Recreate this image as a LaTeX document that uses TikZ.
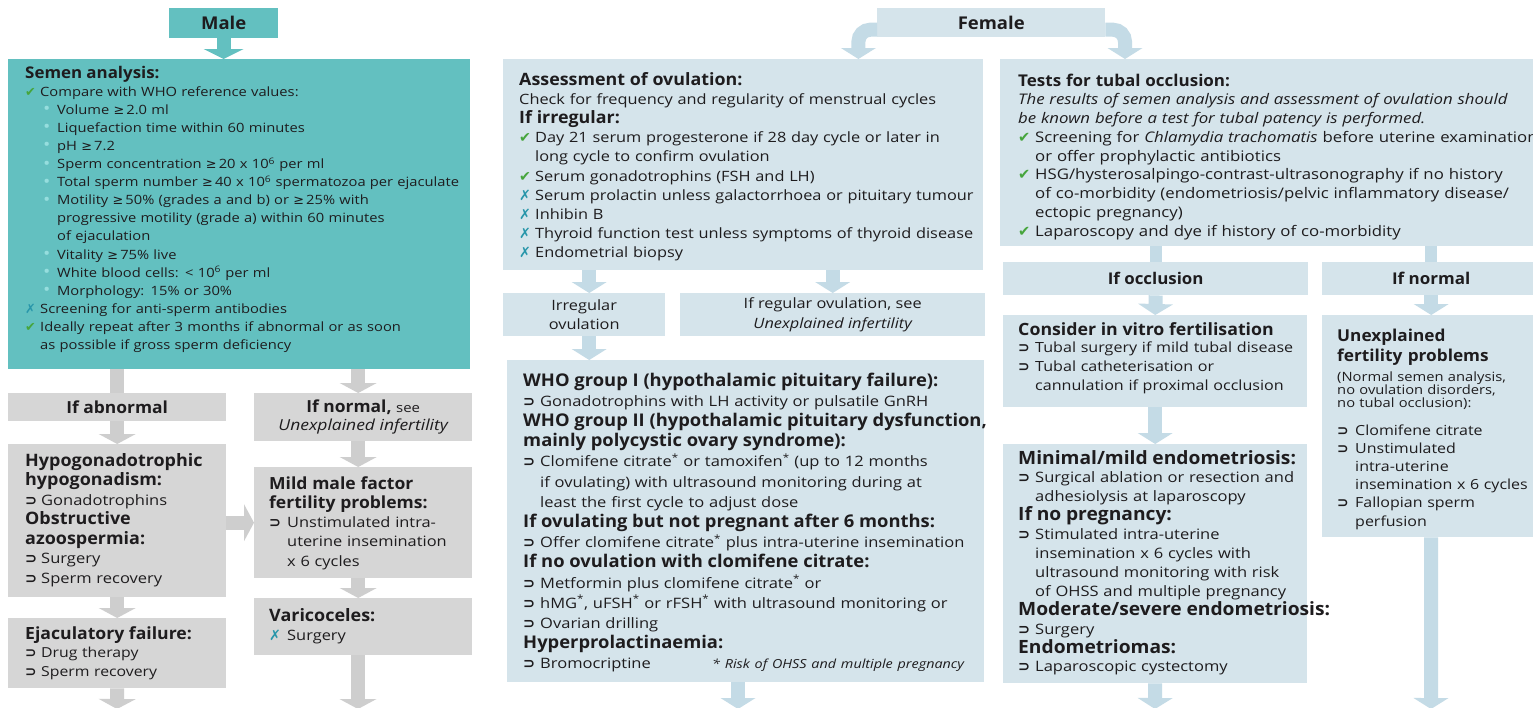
\documentclass[tikz,border=0pt]{standalone}
\usepackage{fontspec}
\setmainfont{Open Sans}[UprightFeatures={FakeStretch=1.15},ItalicFeatures={FakeStretch=1.15},BoldFeatures={FakeStretch=1.05}]
\newfontfamily\symf{DejaVu Sans}
\usetikzlibrary{arrows.meta}
\definecolor{tealbox}{RGB}{99,192,192}
\definecolor{greybox}{RGB}{214,214,214}
\definecolor{greyarr}{RGB}{206,206,206}
\definecolor{bluebox}{RGB}{213,228,235}
\definecolor{bluearr}{RGB}{196,219,230}
\definecolor{ink}{RGB}{30,28,30}
\definecolor{chkgreen}{RGB}{70,165,60}
\definecolor{crsblue}{RGB}{40,150,170}
\definecolor{bulteal}{RGB}{150,222,222}
\newcommand\chk{{\symf\color{chkgreen}✔}}
\newcommand\crs{{\symf\color{crsblue}✗}}
\newcommand\arw{{\symf\bfseries ⊃}}
\newcommand\gq{{\symf ≥}}
\newcommand\bulx{{\color{bulteal}\fontsize{17}{10}\selectfont\raisebox{-0.5pt}{•}}}
\newcommand\fsem{\fontsize{12.8}{18.1}\selectfont}
\newcommand\fass{\fontsize{14.2}{19.2}\selectfont}
\newcommand\fwho{\fontsize{14.35}{20.2}\selectfont}
\newcommand\ftub{\fontsize{14.6}{18.75}\selectfont}
\newcommand\fmin{\fontsize{14.35}{18.9}\selectfont}
\newcommand\fivf{\fontsize{14}{19}\selectfont}
\newcommand\fhyp{\fontsize{14.35}{19.5}\selectfont}
\newcommand\fejc{\fontsize{13.75}{18.5}\selectfont}
\newcommand\fmil{\fontsize{14.25}{19.3}\selectfont}
\newcommand\bt[1]{\fontsize{#1}{18}\selectfont\bfseries}
\tikzset{
  tbox/.style={fill=tealbox, inner sep=0pt, anchor=north west},
  gbox/.style={fill=greybox, inner sep=0pt, anchor=north west},
  bbox/.style={fill=bluebox, inner sep=0pt, anchor=north west},
  txt/.style={anchor=base west, inner sep=0pt, align=left, text width=600pt, text=ink},
  ctxt/.style={inner sep=0pt, align=center, text=ink},
  tarr/.style={draw=tealbox, line width=14pt, -{Triangle[width=40pt,length=10pt,line width=0pt]}},
  garr/.style={draw=greyarr, line width=14pt, -{Triangle[width=37pt,length=10pt,line width=0pt]}},
  gstem/.style={draw=greyarr, line width=14pt},
  barr/.style={draw=bluearr, line width=14pt, -{Triangle[width=35pt,length=11pt,line width=0pt]}},
  bstem/.style={draw=bluearr, line width=12pt},
}
\begin{document}
\begin{tikzpicture}[x=1pt,y=-1pt]
\fill[white] (0,0) rectangle (1533,707);
\useasboundingbox (0,0) rectangle (1533,707);
% ---------------- boxes: male ----------------
\node[tbox, minimum width=109pt, minimum height=30pt] (male) at (169,8) {};
\node[ctxt, font=\bt{17.6}] (maleT) at (male.center) {Male};
\node[tbox, minimum width=462pt, minimum height=310pt] (semen) at (8,59) {};
\node[gbox, minimum width=218pt, minimum height=28pt] (abn) at (8,393) {};
\node[gbox, minimum width=218pt, minimum height=48pt] (nrm) at (254,393) {};
\node[gbox, minimum width=218pt, minimum height=153pt] (hypo) at (8,444) {};
\node[gbox, minimum width=218pt, minimum height=70pt] (ejac) at (8,618) {};
\node[gbox, minimum width=218pt, minimum height=111pt] (mild) at (254,467) {};
\node[gbox, minimum width=218pt, minimum height=57pt] (vari) at (254,598) {};
% ---------------- boxes: female ----------------
\node[bbox, minimum width=228pt, minimum height=29pt] (fem) at (877,8) {};
\node[ctxt, font=\bt{17.6}] (femT) at (fem.center) {Female};
\node[bbox, minimum width=480pt, minimum height=211pt] (assess) at (503,59) {};
\node[bbox, minimum width=162pt, minimum height=43pt] (irr) at (503,293) {};
\node[bbox, minimum width=305pt, minimum height=43pt] (reg) at (680,293) {};
\node[bbox, minimum width=477pt, minimum height=322pt] (who) at (507,360) {};
\node[bbox, minimum width=545pt, minimum height=187pt] (tubal) at (1000,59) {};
\node[bbox, minimum width=305pt, minimum height=33pt] (occl) at (1003,262) {};
\node[bbox, minimum width=218pt, minimum height=33pt] (ifn) at (1322,262) {};
\node[bbox, minimum width=304pt, minimum height=92pt] (ivf) at (1003,315) {};
\node[bbox, minimum width=304pt, minimum height=239pt] (mini) at (1003,444) {};
\node[bbox, minimum width=218pt, minimum height=222pt] (unexp) at (1322,315) {};
% ---------------- texts: male ----------------
\node[txt, font=\fsem] (semenT) at (25,78) {%
{\bt{16.1}Semen analysis:}\\
\makebox[15pt][l]{\chk}Compare with WHO reference values:\\
\hspace*{18pt}\makebox[14pt][l]{\bulx}Volume \gq\,2.0 ml\\
\hspace*{18pt}\makebox[14pt][l]{\bulx}Liquefaction time within 60 minutes\\
\hspace*{18pt}\makebox[14pt][l]{\bulx}pH \gq\,7.2\\
\hspace*{18pt}\makebox[14pt][l]{\bulx}Sperm concentration \gq\,20 x 10\textsuperscript{6} per ml\\
\hspace*{18pt}\makebox[14pt][l]{\bulx}Total sperm number \gq\,40 x 10\textsuperscript{6} spermatozoa per ejaculate\\
\hspace*{18pt}\makebox[14pt][l]{\bulx}Motility \gq\,50\% (grades a and b) or \gq\,25\% with\\
\hspace*{32pt}progressive motility (grade a) within 60 minutes\\
\hspace*{32pt}of ejaculation\\
\hspace*{18pt}\makebox[14pt][l]{\bulx}Vitality \gq\,75\% live\\
\hspace*{18pt}\makebox[14pt][l]{\bulx}White blood cells: < 10\textsuperscript{6} per ml\\
\hspace*{18pt}\makebox[14pt][l]{\bulx}Morphology: 15\% or 30\%\\
\makebox[15pt][l]{\crs}Screening for anti-sperm antibodies\\
\makebox[15pt][l]{\chk}Ideally repeat after 3 months if abnormal or as soon\\
\hspace*{15pt}as possible if gross sperm deficiency};
\node[ctxt, font=\bt{16.6}] (abnT) at (abn.center) {If abnormal};
\node[ctxt, font=\fontsize{15.2}{18}\selectfont] (nrmT) at (nrm.center) {{\bt{16.6}If normal,} {\fontsize{13}{18}\selectfont see}\\{\itshape Unexplained infertility}};
\node[txt, font=\fhyp] (hypoT) at (25,466) {%
{\bt{17.1}Hypogonadotrophic}\\
{\bt{17.1}hypogonadism:}\\
\makebox[16pt][l]{\arw}Gonadotrophins\\
{\bt{17.1}Obstructive}\\
{\bt{17.1}azoospermia:}\\
\makebox[16pt][l]{\arw}Surgery\\
\makebox[16pt][l]{\arw}Sperm recovery};
\node[txt, font=\fejc] (ejacT) at (25,639) {%
{\bt{16.8}Ejaculatory failure:}\\
\makebox[16pt][l]{\arw}Drug therapy\\
\makebox[16pt][l]{\arw}Sperm recovery};
\node[txt, font=\fmil] (mildT) at (269,489) {%
{\bt{16.7}Mild male factor}\\
{\bt{16.7}fertility problems:}\\
\makebox[18pt][l]{\arw}Unstimulated intra-\\
\hspace*{18pt}uterine insemination\\
\hspace*{18pt}x 6 cycles};
\node[txt, font=\fmil] (variT) at (269,621) {%
{\bt{17.1}Varicoceles:}\\
\makebox[18pt][l]{\crs}Surgery};
% ---------------- texts: female ----------------
\node[txt, font=\fass] (assessT) at (519,85) {%
{\bt{17}Assessment of ovulation:}\\
Check for frequency and regularity of menstrual cycles\\
{\bt{17}If irregular:}\\
\makebox[16pt][l]{\chk}Day 21 serum progesterone if 28 day cycle or later in\\
\hspace*{16pt}long cycle to confirm ovulation\\
\makebox[16pt][l]{\chk}Serum gonadotrophins (FSH and LH)\\
\makebox[16pt][l]{\crs}Serum prolactin unless galactorrhoea or pituitary tumour\\
\makebox[16pt][l]{\crs}Inhibin B\\
\makebox[16pt][l]{\crs}Thyroid function test unless symptoms of thyroid disease\\
\makebox[16pt][l]{\crs}Endometrial biopsy};
\node[ctxt, font=\fass] (irrT) at (irr.center) {Irregular\\ovulation};
\node[ctxt, font=\fass] (regT) at (reg.center) {If regular ovulation, see\\{\itshape Unexplained infertility}};
\node[txt, font=\fwho] (whoT) at (523,386) {%
{\bt{17.5}WHO group I (hypothalamic pituitary failure):}\\
\makebox[17pt][l]{\arw}Gonadotrophins with LH activity or pulsatile GnRH\\
{\bt{17.5}WHO group II (hypothalamic pituitary dysfunction,}\\
{\bt{17.5}mainly polycystic ovary syndrome):}\\
\makebox[17pt][l]{\arw}Clomifene citrate\textsuperscript{*} or tamoxifen\textsuperscript{*} (up to 12 months\\
\hspace*{17pt}if ovulating) with ultrasound monitoring during at\\
\hspace*{17pt}least the first cycle to adjust dose\\
{\bt{17.5}If ovulating but not pregnant after 6 months:}\\
\makebox[17pt][l]{\arw}Offer clomifene citrate\textsuperscript{*} plus intra-uterine insemination\\
{\bt{17.5}If no ovulation with clomifene citrate:}\\
\makebox[17pt][l]{\arw}Metformin plus clomifene citrate\textsuperscript{*} or\\
\makebox[17pt][l]{\arw}hMG\textsuperscript{*}, uFSH\textsuperscript{*} or rFSH\textsuperscript{*} with ultrasound monitoring or\\
\makebox[17pt][l]{\arw}Ovarian drilling\\
{\bt{17.5}Hyperprolactinaemia:}\\
\makebox[189pt][l]{\makebox[17pt][l]{\arw}Bromocriptine}{\itshape\fontsize{12.5}{15}\selectfont * Risk of OHSS and multiple pregnancy}};
\node[txt, font=\ftub] (tubalT) at (1018,86) {%
{\bt{16.2}Tests for tubal occlusion:}\\
{\itshape The results of semen analysis and assessment of ovulation should}\\
{\itshape be known before a test for tubal patency is performed.}\\
\makebox[17pt][l]{\chk}Screening for {\itshape Chlamydia trachomatis} before uterine examination\\
\hspace*{17pt}or offer prophylactic antibiotics\\
\makebox[17pt][l]{\chk}HSG/hysterosalpingo-contrast-ultrasonography if no history\\
\hspace*{17pt}of co-morbidity (endometriosis/pelvic inflammatory disease/\\
\hspace*{17pt}ectopic pregnancy)\\
\makebox[17pt][l]{\chk}Laparoscopy and dye if history of co-morbidity};
\node[ctxt, font=\bt{16.1}] (occlT) at (occl.center) {If occlusion};
\node[ctxt, font=\bt{16.2}] (ifnT) at (ifn.center) {If normal};
\node[txt, font=\fivf] (ivfT) at (1018,335) {%
{\bt{16.9}Consider in vitro fertilisation}\\[-2pt]
\makebox[17pt][l]{\arw}Tubal surgery if mild tubal disease\\
\makebox[17pt][l]{\arw}Tubal catheterisation or\\
\hspace*{17pt}cannulation if proximal occlusion};
\node[txt, font=\fmin] (miniT) at (1018,464) {%
{\bt{18.3}Minimal/mild endometriosis:}\\
\makebox[17pt][l]{\arw}Surgical ablation or resection and\\
\hspace*{17pt}adhesiolysis at laparoscopy\\
{\bt{18.3}If no pregnancy:}\\
\makebox[17pt][l]{\arw}Stimulated intra-uterine\\
\hspace*{17pt}insemination x 6 cycles with\\
\hspace*{17pt}ultrasound monitoring with risk\\
\hspace*{17pt}of OHSS and multiple pregnancy\\
{\bt{18.3}Moderate/severe endometriosis:}\\
\makebox[17pt][l]{\arw}Surgery\\
{\bt{18.3}Endometriomas:}\\
\makebox[17pt][l]{\arw}Laparoscopic cystectomy};
\node[txt, font={\fontsize{16.4}{20}\selectfont\bfseries}] (unexpT) at (1337,341) {Unexplained\\fertility problems};
\node[txt, font={\fontsize{12.8}{13.2}\selectfont}] (unexpS) at (1337,381) {(Normal semen analysis,\\no ovulation disorders,\\no tubal occlusion):};
\node[txt, font={\fontsize{13.9}{18.2}\selectfont}] (unexpB) at (1337,435) {%
\makebox[18pt][l]{\arw}Clomifene citrate\\
\makebox[18pt][l]{\arw}Unstimulated\\
\hspace*{18pt}intra-uterine\\
\hspace*{18pt}insemination x 6 cycles\\
\makebox[18pt][l]{\arw}Fallopian sperm\\
\hspace*{18pt}perfusion};
% ---------------- helper coordinates ----------------
\coordinate (cN) at ([xshift=-5pt]nrm.north);
\coordinate (cI) at ([xshift=5pt]irr.north);
\coordinate (endA) at (117,709);
\coordinate (endB) at (358,709);
\coordinate (endC) at (738,709);
\coordinate (endD) at (1155,709);
\coordinate (endE) at (1431,709);
% ---------------- connectors: male ----------------
\draw[tarr] (male.south) -- (male.south |- semen.north);
\draw[gstem] (abn.north |- semen.south) -- (abn.north);
\draw[garr] (cN |- semen.south) -- (cN);
\draw[garr] (abn.south) -- (hypo.north);
\draw[garr] (cN |- nrm.south) -- (cN |- mild.north);
\draw[garr] (hypo.east |- mild.west) -- (mild.west);
\draw[garr] (hypo.south) -- (ejac.north);
\draw[garr] (cN |- mild.south) -- (cN |- vari.north);
\draw[garr] (ejac.south) -- (endA);
\draw[garr] (endB |- vari.south) -- (endB);
% ---------------- connectors: female ----------------
\draw[barr, rounded corners=12pt] ([yshift=-7pt]fem.west) -| ([xshift=-125pt]assess.north east);
\draw[barr, rounded corners=12pt] ([yshift=-7pt]fem.east) -| ([xshift=125pt]tubal.north west);
\draw[barr] (cI |- assess.south) -- (cI);
\draw[barr] (reg.north |- assess.south) -- (reg.north);
\draw[barr] (cI |- irr.south) -- (cI |- who.north);
\draw[barr] (endC |- who.south) -- (endC);
\draw[bstem] (occl.north |- tubal.south) -- (occl.north);
\draw[bstem] (ifn.north |- tubal.south) -- (ifn.north);
\draw[barr] (occl.south) -- (ivf.north);
\draw[barr] (ifn.south) -- (unexp.north);
\draw[barr] (ivf.south) -- (mini.north);
\draw[barr] (mini.south) -- (endD);
\draw[barr] (unexp.south) -- (endE);
\end{tikzpicture}
\end{document}
